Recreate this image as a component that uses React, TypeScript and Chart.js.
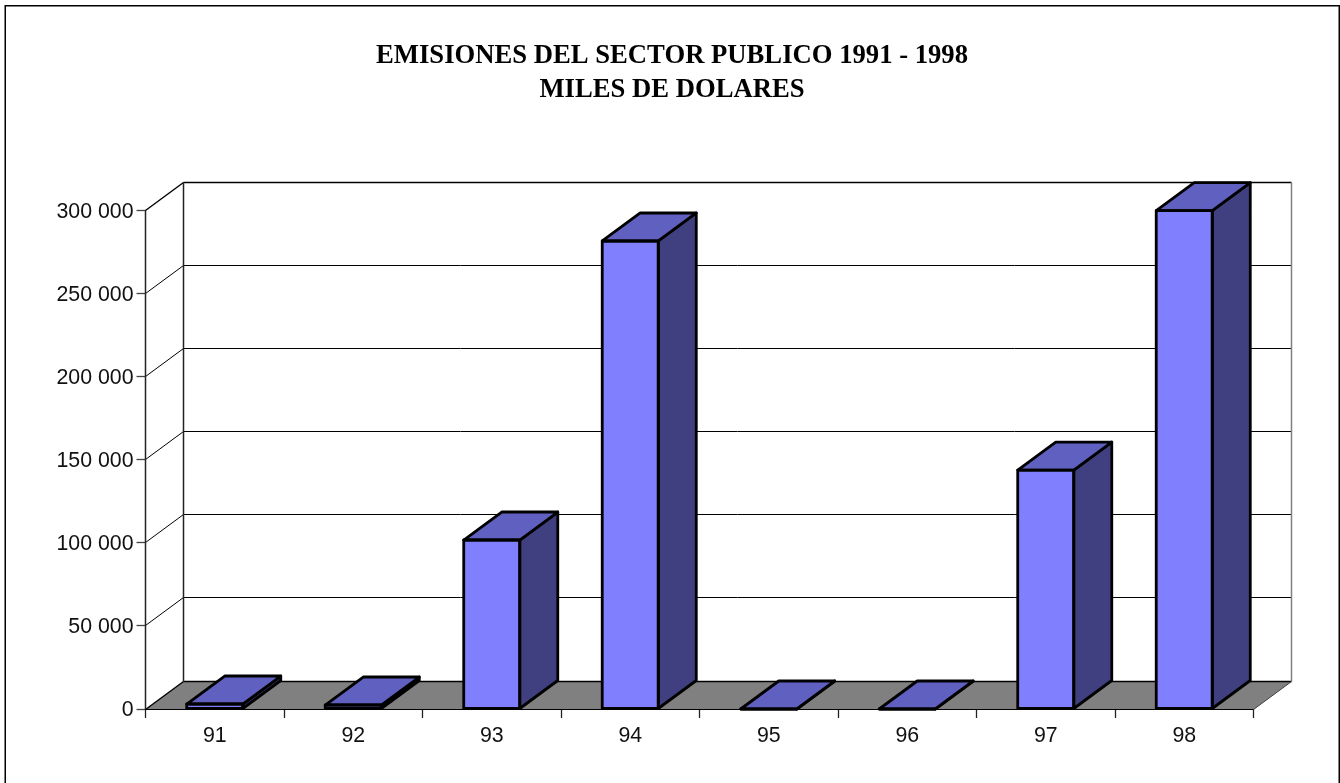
import React, { useEffect, useRef } from "react";
import { Chart, registerables } from "chart.js";

Chart.register(...registerables);

const titleLines = ["EMISIONES DEL SECTOR PUBLICO 1991 - 1998", "MILES DE DOLARES"];
const categories = ["91", "92", "93", "94", "95", "96", "97", "98"];
const emisiones = [3000, 2400, 101700, 281650, 0, 0, 143800, 299900];

const DEPTH_X = 38;
const DEPTH_Y = 28;
const BLACK = "#000000";
const BAR_EDGE = 2.8;

const fmt = (v: number) => String(v).replace(/\B(?=(\d{3})+(?!\d))/g, " ");

function poly(ctx: CanvasRenderingContext2D, pts: number[][], fill: string | null, stroke: string | null, lw: number) {
  ctx.beginPath();
  pts.forEach((p, i) => (i ? ctx.lineTo(p[0], p[1]) : ctx.moveTo(p[0], p[1])));
  ctx.closePath();
  if (fill) { ctx.fillStyle = fill; ctx.fill(); }
  if (stroke) { ctx.strokeStyle = stroke; ctx.lineWidth = lw; ctx.lineJoin = "round"; ctx.stroke(); }
}
function line(ctx: CanvasRenderingContext2D, x1: number, y1: number, x2: number, y2: number, color: string, lw: number) {
  ctx.beginPath();
  ctx.moveTo(x1, y1);
  ctx.lineTo(x2, y2);
  ctx.strokeStyle = color;
  ctx.lineWidth = lw;
  ctx.stroke();
}

const framePlugin = {
  id: "frame3d",
  beforeDraw(chart: any) {
    const { ctx, width } = chart;
    ctx.save();
    ctx.fillStyle = "#ffffff";
    ctx.fillRect(0, 0, width, chart.height);
    ctx.strokeStyle = BLACK;
    ctx.lineWidth = 1.5;
    ctx.strokeRect(5.25, 5.75, width - 6, chart.height + 20);
    ctx.restore();
  },
  beforeDatasetsDraw(chart: any) {
    const { ctx, chartArea: a, scales } = chart;
    const y = scales.y;
    ctx.save();
    const bottom = Math.floor(a.bottom) + 0.5;
    // floor
    poly(ctx, [[a.left, bottom], [a.left + DEPTH_X, bottom - DEPTH_Y], [a.right + DEPTH_X, bottom - DEPTH_Y], [a.right, bottom]], "#808080", null, 0);
    // walls
    y.ticks.forEach((_: any, i: number) => {
      const py = Math.floor(y.getPixelForTick(i)) + 0.5;
      const strong = i === 0 || i === y.ticks.length - 1;
      line(ctx, a.left, py, a.left + DEPTH_X, py - DEPTH_Y, BLACK, strong ? 1.4 : 1);
      line(ctx, a.left + DEPTH_X, py - DEPTH_Y, a.right + DEPTH_X, py - DEPTH_Y, BLACK, strong ? 1.5 : 1);
    });
    line(ctx, a.left, a.top, a.left, bottom, "#222222", 1.5);
    line(ctx, a.left + DEPTH_X, a.top - DEPTH_Y, a.left + DEPTH_X, bottom - DEPTH_Y, "#222222", 1.5);
    line(ctx, a.right + DEPTH_X, a.top - DEPTH_Y, a.right + DEPTH_X, bottom - DEPTH_Y, "#808080", 1.5);
    line(ctx, a.right, bottom, a.right + DEPTH_X, bottom - DEPTH_Y, "#404040", 1);
    line(ctx, a.left, bottom, a.right, bottom, BLACK, 1.2);
    ctx.restore();
  },
  afterDatasetsDraw(chart: any) {
    const { ctx } = chart;
    ctx.save();
    // bar side faces, top faces and outlines, from the bars' own geometry
    const meta = chart.getDatasetMeta(0);
    meta.data.forEach((bar: any) => {
      const p = bar.getProps(["x", "y", "base", "width"], true);
      const l = p.x - p.width / 2;
      const r = p.x + p.width / 2;
      const t = p.y;
      const b = p.base;
      poly(ctx, [[r, t], [r + DEPTH_X, t - DEPTH_Y], [r + DEPTH_X, b - DEPTH_Y], [r, b]], "#404080", BLACK, BAR_EDGE);
      poly(ctx, [[l, t], [l + DEPTH_X, t - DEPTH_Y], [r + DEPTH_X, t - DEPTH_Y], [r, t]], "#6060C0", BLACK, BAR_EDGE);
      poly(ctx, [[l, t], [r, t], [r, b], [l, b]], null, BLACK, BAR_EDGE);
    });
    ctx.restore();
  },
};

export default function App() {
  const ref = useRef<HTMLCanvasElement>(null);
  useEffect(() => {
    const chart = new Chart(ref.current!, {
      type: "bar",
      data: {
        labels: categories,
        datasets: [{
          data: emisiones,
          backgroundColor: "#8080FF",
          borderWidth: 0,
          barPercentage: 0.4046,
          categoryPercentage: 1,
          yAxisID: "y",
        }],
      },
      options: {
        responsive: false,
        animation: false,
        layout: { padding: { top: 0, left: 4, right: 0, bottom: 0 } },
        plugins: {
          legend: { display: false },
          tooltip: { enabled: false },
          title: {
            display: true,
            text: titleLines,
            color: BLACK,
            font: { family: "'Liberation Serif'", size: 26.67, weight: "bold", lineHeight: "34px" },
            padding: { top: 39, bottom: 103.5 },
          },
        },
        scales: {
          x: {
            grid: { offset: true, drawOnChartArea: false, drawTicks: true, tickLength: 9, color: "#222222", tickColor: "#222222", tickWidth: 1.3 },
            border: { display: false },
            ticks: { color: "#111111", padding: 5, maxRotation: 0, font: { family: "'Liberation Sans'", size: 21.33 } },
            afterFit(s: any) { s.height = 74; },
          },
          y: {
            min: 0,
            max: 300000,
            grid: { drawOnChartArea: false, drawTicks: true, tickLength: 9, color: "#444444", tickColor: "#444444", tickWidth: 1.3 },
            border: { display: false },
            ticks: { stepSize: 50000, color: "#111111", padding: 3, labelOffset: 1.5, callback: (v: any) => fmt(Number(v)), font: { family: "'Liberation Sans'", size: 21.33 } },
            afterFit(s: any) { s.width = 141.5; },
          },
          y1: {
            position: "right",
            display: true,
            grid: { display: false, drawTicks: false },
            border: { display: false },
            ticks: { display: false },
            afterFit(s: any) { s.width = 86.5; },
          },
        },
      } as any,
      plugins: [framePlugin],
    });
    return () => chart.destroy();
  }, []);
  return <canvas ref={ref} width={1340} height={783} style={{ position: "absolute", left: 0, top: 0, display: "block" }} />;
}
